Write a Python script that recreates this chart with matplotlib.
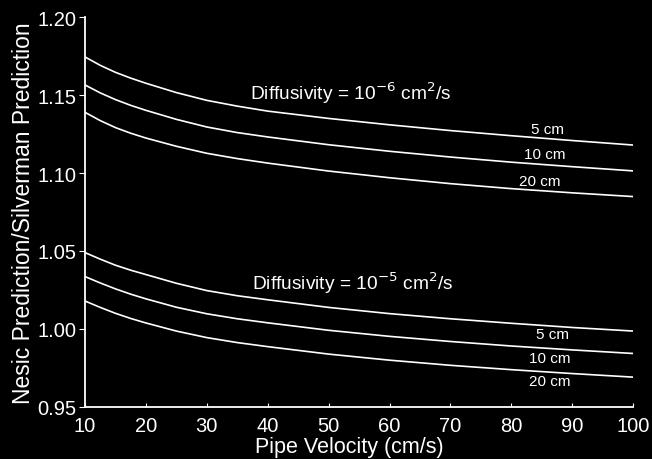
import numpy as np
import matplotlib.pyplot as plt

plt.rcParams['font.family'] = ['Liberation Sans', 'DejaVu Sans']

# pipe velocity (cm/s)
velocity = [10, 12.5, 15, 17.5, 20, 25, 30, 35, 40, 50, 60, 70, 80, 90, 100]

# diffusivity 1e-6 cm2/s, pipe diameter 5 / 10 / 20 cm
d6_5cm = [1.1746, 1.1692, 1.1647, 1.161, 1.1577, 1.1517, 1.1467, 1.143, 1.1398,
          1.1351, 1.131, 1.1273, 1.124, 1.1209, 1.118]
d6_10cm = [1.1566, 1.1515, 1.1472, 1.1435, 1.1403, 1.1345, 1.1296, 1.126, 1.1232,
           1.1182, 1.114, 1.1103, 1.107, 1.1041, 1.1014]
d6_20cm = [1.139, 1.1337, 1.1292, 1.1256, 1.1225, 1.1172, 1.1127, 1.1093, 1.1064,
           1.1013, 1.097, 1.0932, 1.09, 1.0873, 1.0849]

# diffusivity 1e-5 cm2/s
d5_5cm = [1.0489, 1.0447, 1.0408, 1.0376, 1.0348, 1.0292, 1.0245, 1.0212, 1.0186,
          1.0137, 1.0097, 1.0064, 1.0035, 1.0008, 0.9985]
d5_10cm = [1.0335, 1.0294, 1.0256, 1.0222, 1.0192, 1.0138, 1.0096, 1.0064, 1.0038,
           0.999, 0.9951, 0.9918, 0.9889, 0.9864, 0.9841]
d5_20cm = [1.0178, 1.0137, 1.0099, 1.0066, 1.0037, 0.9985, 0.9943, 0.9911, 0.9885,
           0.9837, 0.9798, 0.9765, 0.9737, 0.9712, 0.9689]

fig = plt.figure(figsize=(6.52, 4.60), dpi=100, facecolor='black')
ax = fig.add_axes([0.1304, 0.114, 0.8406, 0.846])
ax.set_facecolor('black')

for series in [d6_5cm, d6_10cm, d6_20cm, d5_5cm, d5_10cm, d5_20cm]:
    ax.plot(velocity, series, color='white', lw=1.2)

# curve labels
ax.text(85.9, 1.1283, '5 cm', color='white', fontsize=11, ha='center', va='center')
ax.text(85.5, 1.1122, '10 cm', color='white', fontsize=11, ha='center', va='center')
ax.text(84.7, 1.0948, '20 cm', color='white', fontsize=11, ha='center', va='center')
ax.text(86.8, 0.9963, '5 cm', color='white', fontsize=11, ha='center', va='center')
ax.text(86.3, 0.9809, '10 cm', color='white', fontsize=11, ha='center', va='center')
ax.text(86.3, 0.9661, '20 cm', color='white', fontsize=11, ha='center', va='center')

ax.text(37.1, 1.152, r'Diffusivity = 10$^{-6}$ cm$^{2}$/s', color='white',
        fontsize=13.8, ha='left', va='center')
ax.text(37.4, 1.0298, r'Diffusivity = 10$^{-5}$ cm$^{2}$/s', color='white',
        fontsize=13.8, ha='left', va='center')

ax.set_xlim(10, 100)
ax.set_ylim(0.95, 1.20)
ax.set_xticks(np.arange(10, 101, 10))
ax.set_yticks([0.95, 1.00, 1.05, 1.10, 1.15, 1.20])
ax.set_yticklabels(['0.95', '1.00', '1.05', '1.10', '1.15', '1.20'])

for s in ['top', 'right']:
    ax.spines[s].set_visible(False)
for s in ['left', 'bottom']:
    ax.spines[s].set_color('white')
    ax.spines[s].set_linewidth(1.3)

ax.tick_params(axis='y', colors='white', labelsize=14.5, direction='out', length=4, pad=2)
ax.tick_params(axis='x', colors='white', labelsize=14.5, direction='in', length=3, pad=7)

ax.set_xlabel('Pipe Velocity (cm/s)', color='white', fontsize=15.5)
ax.xaxis.set_label_coords(0.482, -0.075)
ax.set_ylabel('Nesic Prediction/Silverman Prediction', color='white', fontsize=16.5, labelpad=2)

fig.savefig('out.png', dpi=100, facecolor='black')
